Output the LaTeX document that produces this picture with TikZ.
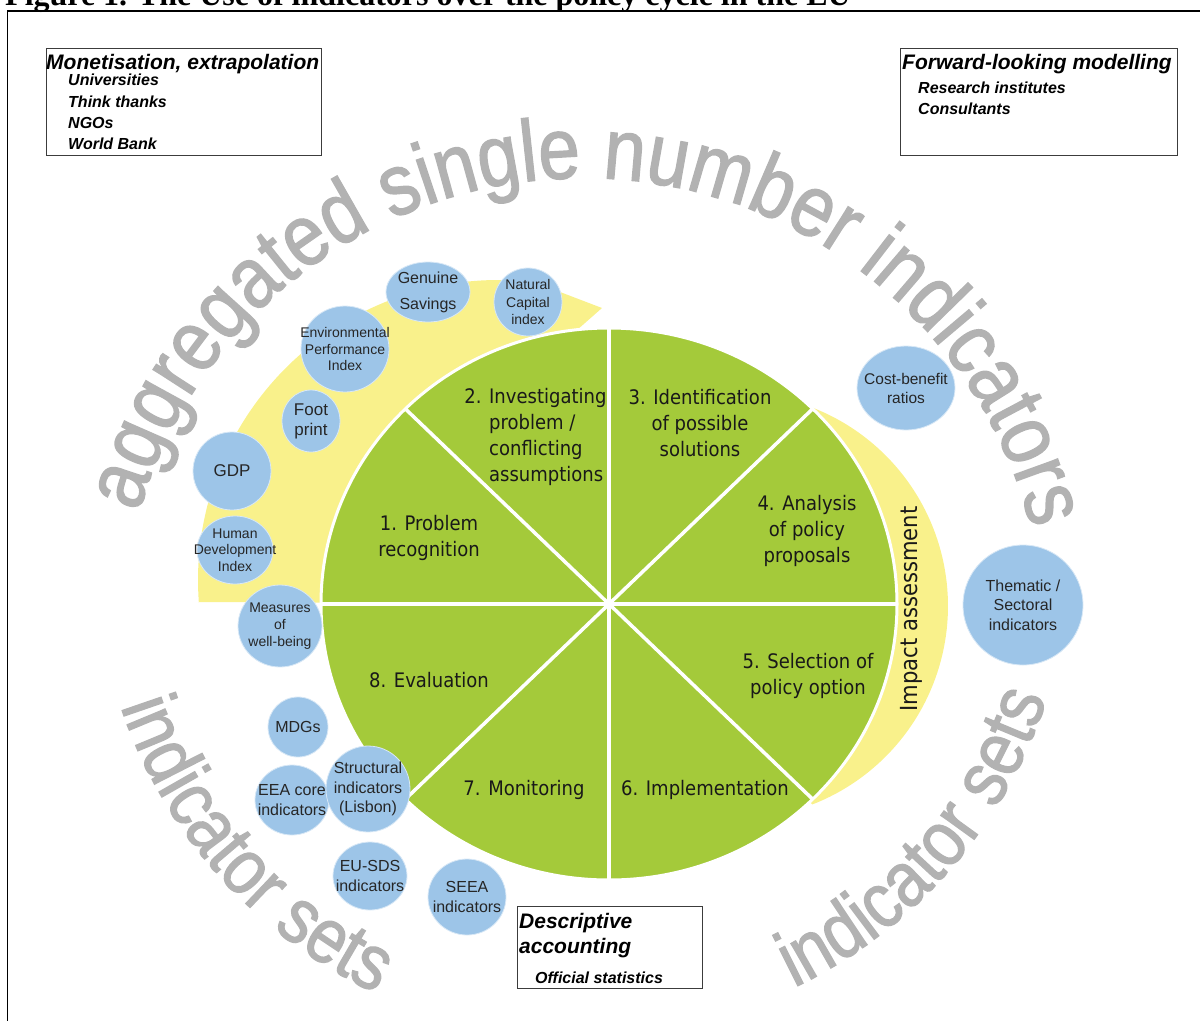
\documentclass[tikz,border=0pt]{standalone}
\usepackage{fontspec}
\setmainfont{Liberation Sans}
\newfontfamily\piefont{DejaVu Sans}[FakeStretch=0.9]
\newfontfamily\titlefont{Liberation Serif}
\newfontfamily\grayfont{Liberation Sans}[FakeStretch=0.86, FakeBold=1.5]
\usetikzlibrary{shapes.geometric,decorations.text}
\definecolor{pgreen}{RGB}{164,202,58}
\definecolor{pyellow}{RGB}{249,241,139}
\definecolor{pblue}{RGB}{157,197,232}
\definecolor{tgray}{RGB}{178,178,178}
\definecolor{boxline}{RGB}{60,60,60}
\newcommand\bigtxt{\grayfont\fontsize{87}{90}\selectfont}
\newcommand\settxt{\grayfont\fontsize{78}{80}\selectfont}
\begin{document}
\begin{tikzpicture}[x=1pt,y=-1pt,
  bubble/.style={ellipse, fill=pblue, draw=white!60!pblue, line width=0.8pt, inner sep=0pt},
  btext/.style={align=center, inner sep=0pt, text=black!85},
  pielab/.style={align=center, inner sep=0pt, text=black!90, font=\piefont\fontsize{20}{26}\selectfont},
  boxframe/.style={draw=boxline, line width=1.2pt, inner sep=0pt, anchor=north west},
  btitle/.style={anchor=base west, inner sep=0pt, font=\bfseries\itshape\fontsize{21}{25}\selectfont},
  bitem/.style={anchor=base west, inner sep=0pt, font=\bfseries\itshape\fontsize{16}{19}\selectfont}]
\useasboundingbox (0,0) rectangle (1200,1021);

% title (cut off at top) and frame
\node[anchor=base west, inner sep=0pt, font=\titlefont\bfseries\fontsize{32}{36}\selectfont] (title) at (5,5) {Figure 1. The Use of indicators over the policy cycle in the EU};
\draw[line width=1.3pt] (1200,11) -- (7.5,11) -- (7.5,1021);

% big gray curved texts
\path[decorate, decoration={text along path, text color=tgray, text align=left,
  text={|\bigtxt|aggregated single number indicators}}]
  plot[domain=196:358, samples=160] ({583+462*cos(\x)},{640+462*sin(\x)});
\path[decorate, decoration={text along path, text color=tgray, text align=left,
  text={|\settxt|indicator sets}}]
  plot[domain=0:70, samples=80] ({585+490*cos(161.4-\x)},{550+490*sin(161.4-\x)});
\path[decorate, decoration={text along path, text color=tgray, text align=left,
  text={|\settxt|indicator sets}}]
  plot[domain=0:62, samples=80] ({585+485*cos(64.5-\x)},{550+485*sin(64.5-\x)});

% yellow bands
\fill[pyellow] (198,602) -- plot[domain=175.8:277, samples=80] ({498+300*cos(\x)},{580+300*sin(\x)})
  -- (602,308) -- (560,345) -- (609,604) -- cycle;
\fill[pyellow] plot[domain=-68.7:68.7, samples=80] ({735+213*cos(\x)},{606+213*sin(\x)}) -- (609,604) -- cycle;

% pie
\filldraw[fill=pgreen, draw=white, line width=3pt] (609,604) ellipse [x radius=288, y radius=276];
\foreach \a in {0,45,...,315}
  \draw[white, line width=3.5pt] (609,604) -- ({609+288*cos(\a)},{604+276*sin(\a)});

\node[pielab] (s1) at (429,538) {1. Problem\\recognition};
\node[pielab, align=left, anchor=west] (s2) at (489,437) {\llap{2. }Investigating\\problem /\\conflicting\\assumptions};
\node[pielab] (s3) at (700,423) {3. Identification\\of possible\\solutions};
\node[pielab] (s4) at (807,531) {4. Analysis\\of policy\\proposals};
\node[pielab] (s5) at (808,676) {5. Selection of\\policy option};
\node[pielab] (s6) at (705,790) {6. Implementation};
\node[pielab] (s7) at (524,790) {7. Monitoring};
\node[pielab] (s8) at (429,680) {8. Evaluation};
\node[pielab, rotate=90, font=\piefont\fontsize{23.5}{26}\selectfont] (ia) at (911,609) {Impact assessment};

% indicator bubbles
\node[bubble, minimum width=84, minimum height=60] (gs) at (428,292) {};
\node[bubble, minimum width=68, minimum height=68] (nc) at (528,302) {};
\node[bubble, minimum width=88, minimum height=86] (epi) at (345,349) {};
\node[bubble, minimum width=58, minimum height=62] (fp) at (311,421) {};
\node[bubble, minimum width=78, minimum height=78] (gdp) at (232,471) {};
\node[bubble, minimum width=76, minimum height=68] (hdi) at (235,550) {};
\node[bubble, minimum width=84, minimum height=82] (mwb) at (280,626) {};
\node[bubble, minimum width=98, minimum height=84] (cb) at (906,388) {};
\node[bubble, minimum width=120, minimum height=120] (ts) at (1023,605) {};
\node[bubble, minimum width=60, minimum height=60] (mdg) at (298,727) {};
\node[bubble, minimum width=74, minimum height=70] (eea) at (292,800) {};
\node[bubble, minimum width=84, minimum height=86] (si) at (368,789) {};
\node[bubble, minimum width=74, minimum height=68] (sds) at (370,876) {};
\node[bubble, minimum width=78, minimum height=76] (seea) at (467,897) {};

\node[btext, font=\fontsize{16}{26}\selectfont] at (gs) {Genuine\\Savings};
\node[btext, font=\fontsize{14}{17.5}\selectfont] at (nc) {Natural\\Capital\\index};
\node[btext, font=\fontsize{14}{16.5}\selectfont] at (epi) {Environmental\\Performance\\Index};
\node[btext, font=\fontsize{17}{20}\selectfont] at (fp) {Foot\\print};
\node[btext, font=\fontsize{17}{20}\selectfont] at (gdp) {GDP};
\node[btext, font=\fontsize{14}{16.5}\selectfont] at (hdi) {Human\\Development\\Index};
\node[btext, font=\fontsize{14}{17}\selectfont] at (mwb) {Measures\\of\\well-being};
\node[btext, font=\fontsize{15.5}{19}\selectfont] at (cb) {Cost-benefit\\ratios};
\node[btext, font=\fontsize{16}{19.5}\selectfont] at (ts) {Thematic /\\Sectoral\\indicators};
\node[btext, font=\fontsize{16}{20}\selectfont] at (mdg) {MDGs};
\node[btext, font=\fontsize{16}{20}\selectfont] at (eea) {EEA core\\indicators};
\node[btext, font=\fontsize{16}{19.5}\selectfont] at (si) {Structural\\indicators\\(Lisbon)};
\node[btext, font=\fontsize{16}{20}\selectfont] at (sds) {EU-SDS\\indicators};
\node[btext, font=\fontsize{16}{20}\selectfont] at (seea) {SEEA\\indicators};

% boxes
\node[boxframe, minimum width=275, minimum height=107] (mon) at (46,48) {};
\node[btitle] (mont) at (46,69.5) {Monetisation, extrapolation};
\node[bitem] at (68,85) {Universities};
\node[bitem] at (68,107) {Think thanks};
\node[bitem] at (68,128) {NGOs};
\node[bitem] at (68,149) {World Bank};

\node[boxframe, minimum width=277, minimum height=107] (fwd) at (900,48) {};
\node[btitle] (fwdt) at (902,69.5) {Forward-looking modelling};
\node[bitem] at (918,93) {Research institutes};
\node[bitem] at (918,114) {Consultants};

\node[boxframe, minimum width=185, minimum height=82] (desc) at (517,906) {};
\node[btitle] (desct) at (519,928) {Descriptive};
\node[btitle] at (519,953) {accounting};
\node[bitem] at (535,983) {Official statistics};
\end{tikzpicture}
\end{document}
